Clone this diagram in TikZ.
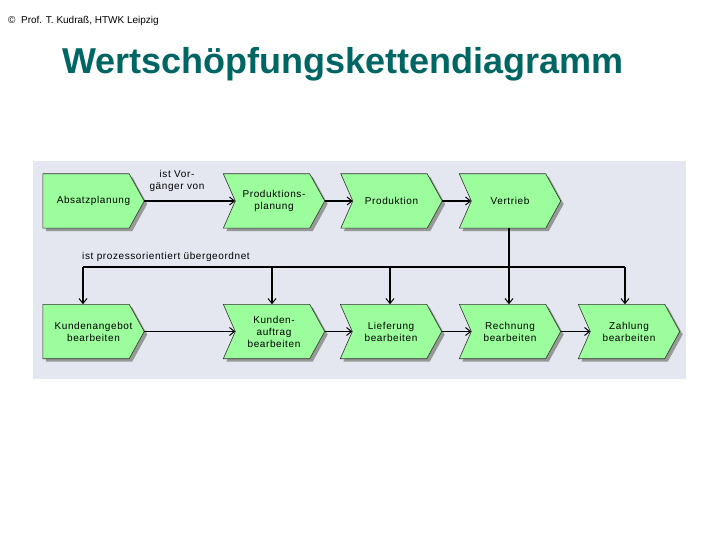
\documentclass[tikz,border=0pt]{standalone}
\usepackage{fontspec}
\setmainfont{Liberation Sans}
\newfontfamily\boxfont[LetterSpace=6]{Liberation Sans}
\usetikzlibrary{arrows.meta}
\definecolor{panel}{RGB}{228,230,240}
\definecolor{chgreen}{RGB}{155,253,155}
\definecolor{shadowgray}{RGB}{150,154,150}
\definecolor{titleteal}{RGB}{0,102,100}
\tikzset{
  box/.style={minimum width=101pt,minimum height=54pt,inner sep=0pt,align=center,
    font=\boxfont\fontsize{10pt}{12pt}\selectfont},
  conn/.style={line width=1.6pt,-{Straight Barb[length=5pt,width=8pt,line width=1pt]}},
  thinconn/.style={line width=1pt,-{Straight Barb[length=5pt,width=8pt,line width=1pt]}},
  bus/.style={line width=1.5pt},
  lbl/.style={font=\boxfont\fontsize{10pt}{12pt}\selectfont,inner sep=0pt,align=center},
}
% chevron: #1 node name, #2 notch (1 = notched left edge)
\newcommand{\chevpath}[2]{%
  (#1.north west) -- ([xshift=-15pt]#1.north east) -- (#1.east)
  -- ([xshift=-15pt]#1.south east) -- (#1.south west)
  \ifnum#2=1 -- ([xshift=12pt]#1.west) \fi -- cycle}
\newcommand{\chevron}[2]{%
  \begin{scope}[transform canvas={shift={(3pt,-3pt)}}]
  \fill[shadowgray] \chevpath{#1}{#2};
  \end{scope}
  \filldraw[fill=chgreen,draw=black!80,line width=0.6pt] \chevpath{#1}{#2};
  \node[box] at (#1) {\csname chevtext#1\endcsname};}
\begin{document}
\begin{tikzpicture}[x=1pt,y=-1pt]
\useasboundingbox (0,0) rectangle (720,540);
\fill[white] (0,0) rectangle (720,540);
% header and title
\node[anchor=base west,inner sep=0pt,font=\fontsize{10pt}{12pt}\selectfont] (hdr) at (8,24) {©\ \ Prof. T. Kudraß, HTWK Leipzig};
\node[anchor=base west,inner sep=0pt,font=\fontsize{36pt}{40pt}\selectfont\bfseries,text=titleteal] (title) at (62,74) {Wertschöpfungskettendiagramm};
% panel
\fill[panel] (33,161) rectangle (686,379);
% box positions
\node[box] (A)  at (93.5,201) {};
\node[box] (PP) at (274,201) {};
\node[box] (P)  at (391.5,201) {};
\node[box] (V)  at (510,201) {};
\node[box] (KA) at (93.5,331.5) {};
\node[box] (KU) at (274,331.5) {};
\node[box] (L)  at (391,331.5) {};
\node[box] (R)  at (510,331.5) {};
\node[box] (Z)  at (629,331.5) {};
\expandafter\def\csname chevtextA\endcsname{Absatzplanung}
\expandafter\def\csname chevtextPP\endcsname{Produktions-\\planung}
\expandafter\def\csname chevtextP\endcsname{Produktion}
\expandafter\def\csname chevtextV\endcsname{Vertrieb}
\expandafter\def\csname chevtextKA\endcsname{Kundenangebot\\bearbeiten}
\expandafter\def\csname chevtextKU\endcsname{Kunden-\\auftrag\\bearbeiten}
\expandafter\def\csname chevtextL\endcsname{Lieferung\\bearbeiten}
\expandafter\def\csname chevtextR\endcsname{Rechnung\\bearbeiten}
\expandafter\def\csname chevtextZ\endcsname{Zahlung\\bearbeiten}
\chevron{A}{0}
\chevron{PP}{1}
\chevron{P}{1}
\chevron{V}{1}
\chevron{KA}{0}
\chevron{KU}{1}
\chevron{L}{1}
\chevron{R}{1}
\chevron{Z}{1}
% top row connectors
\draw[conn] (A.east) -- ([xshift=12pt]PP.west);
\draw[conn] (PP.east) -- ([xshift=12pt]P.west);
\draw[conn] (P.east) -- ([xshift=12pt]V.west);
\node[lbl] (lvor) at (177,181) {ist Vor-\\gänger von};
% hierarchy
\coordinate (busL) at (83,267);
\coordinate (busR) at (625,267);
\draw[line width=2.4pt] ([xshift=-1pt]V.south) -- ([xshift=-1pt]V.south |- busL);
\draw[bus] (busL) -- (busR);
\draw[conn,line width=1.3pt] (busL) -- ([xshift=-10.5pt]KA.north);
\draw[conn,line width=1.3pt] ([xshift=-2pt]KU.north |- busL) -- ([xshift=-2pt]KU.north);
\draw[conn,line width=1.3pt] ([xshift=-1pt]L.north |- busL) -- ([xshift=-1pt]L.north);
\draw[conn,line width=1.3pt] ([xshift=-1pt]R.north |- busL) -- ([xshift=-1pt]R.north);
\draw[conn,line width=1.3pt] (busR) -- ([xshift=-4pt]Z.north);
\node[lbl,anchor=west] (lpro) at (82,257) {ist prozessorientiert übergeordnet};
% bottom row connectors
\draw[thinconn] (KA.east) -- ([xshift=12pt]KU.west);
\draw[conn] (KU.east) -- ([xshift=12pt]L.west);
\draw[conn] (L.east) -- ([xshift=12pt]R.west);
\draw[conn] (R.east) -- ([xshift=12pt]Z.west);
\end{tikzpicture}
\end{document}
